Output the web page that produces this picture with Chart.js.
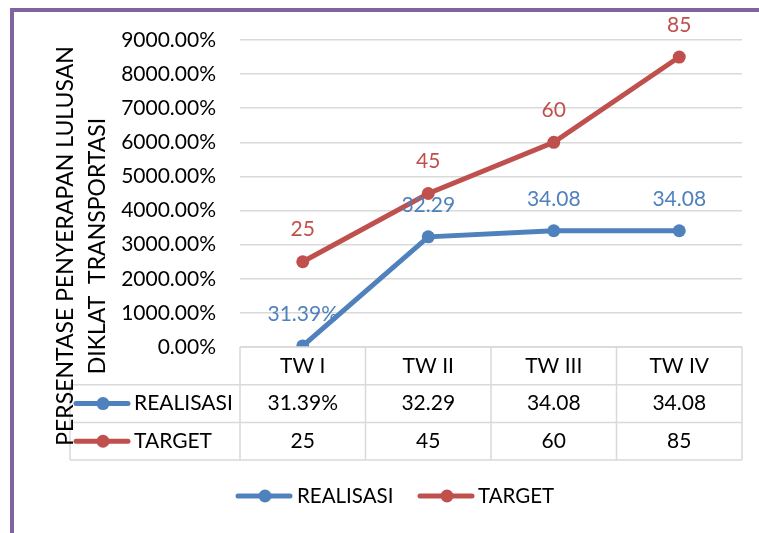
<!DOCTYPE html>
<html>
<head>
<meta charset="utf-8">
<script src="https://cdn.jsdelivr.net/npm/chart.js@4.4.0/dist/chart.umd.min.js"></script>
<style>
  html, body { margin: 0; padding: 0; background: #fff; }
  #wrap { position: relative; width: 759px; height: 533px; overflow: hidden; }
  #frame {
    position: absolute; left: 10px; top: 8px; width: 800px; height: 521px;
    border-left: 4px solid #8064a2; border-top: 4px solid #8064a2;
    border-bottom: 2px solid #d3c8e0;
  }
  canvas { position: absolute; left: 0; top: 0; }
</style>
</head>
<body>
<div id="wrap">
  <div id="frame"></div>
  <canvas id="chart" width="759" height="533"></canvas>
</div>
<script>
// categories and series (values in "hundreds of percent", axis shows x100 %)
var categories = ["TW I", "TW II", "TW III", "TW IV"];
var realisasiValues = [0.3139, 32.29, 34.08, 34.08];
var targetValues = [25, 45, 60, 85];
var realisasiLabels = ["31.39%", "32.29", "34.08", "34.08"];
var targetLabels = ["25", "45", "60", "85"];
var titleLines = ["PERSENTASE PENYERAPAN LULUSAN", "DIKLAT  TRANSPORTASI"];

var FONT = "Lato, 'Liberation Sans', sans-serif";
var BLUE = "#4f81bd";
var RED = "#c0504d";
var GRID = "#d9d9d9";

function drawKey(ctx, x, y, color) {
  ctx.save();
  ctx.strokeStyle = color;
  ctx.lineWidth = 5;
  ctx.lineCap = "round";
  ctx.beginPath();
  ctx.moveTo(x, y);
  ctx.lineTo(x + 52, y);
  ctx.stroke();
  ctx.fillStyle = color;
  ctx.beginPath();
  ctx.arc(x + 27, y, 6.5, 0, Math.PI * 2);
  ctx.fill();
  ctx.restore();
}

var extras = {
  id: "extras",
  afterDatasetsDraw: function (chart) {
    var ctx = chart.ctx;
    // data labels above points
    ctx.save();
    ctx.font = "21px " + FONT;
    ctx.textAlign = "center";
    ctx.textBaseline = "middle";
    chart.data.datasets.forEach(function (ds, i) {
      var meta = chart.getDatasetMeta(i);
      meta.data.forEach(function (pt, j) {
        ctx.fillStyle = ds.borderColor;
        ctx.fillText(ds.valueLabels[j], pt.x, pt.y - 32);
      });
    });
    ctx.restore();
  },
  afterDraw: function (chart) {
    var ctx = chart.ctx;
    var xs = chart.scales.x;
    var area = chart.chartArea;
    var n = categories.length;
    var band = (area.right - area.left) / n;
    var rowH = 37.7;
    var top = area.bottom;
    var tableLeft = 70;

    // table grid
    ctx.save();
    ctx.strokeStyle = GRID;
    ctx.lineWidth = 1.5;
    ctx.beginPath();
    ctx.moveTo(area.left, top);
    ctx.lineTo(area.right, top);
    for (var r = 1; r <= 3; r++) {
      ctx.moveTo(tableLeft, top + r * rowH);
      ctx.lineTo(area.right, top + r * rowH);
    }
    ctx.moveTo(tableLeft, top + rowH);
    ctx.lineTo(tableLeft, top + 3 * rowH);
    for (var c = 0; c <= n; c++) {
      var x = area.left + c * band;
      ctx.moveTo(x, top);
      ctx.lineTo(x, top + 3 * rowH);
    }
    ctx.stroke();

    // table text
    ctx.font = "21px " + FONT;
    ctx.fillStyle = "#000";
    ctx.textAlign = "center";
    ctx.textBaseline = "middle";
    categories.forEach(function (cat, j) {
      var cx = xs.getPixelForValue(j);
      ctx.fillText(cat, cx, top + rowH * 0.5);
      ctx.fillText(realisasiLabels[j], cx, top + rowH * 1.5);
      ctx.fillText(targetLabels[j], cx, top + rowH * 2.5);
    });

    // series keys in table
    var ds = chart.data.datasets;
    ctx.textAlign = "left";
    ds.forEach(function (d, i) {
      var y = top + rowH * (1.5 + i);
      drawKey(ctx, 76, y, d.borderColor);
      ctx.fillStyle = "#000";
      ctx.fillText(d.label, 134, y);
    });

    // bottom legend
    var ly = 496;
    ctx.font = "20.5px " + FONT;
    drawKey(ctx, 238, ly, ds[0].borderColor);
    ctx.fillStyle = "#000";
    ctx.fillText(ds[0].label, 297, ly);
    drawKey(ctx, 420, ly, ds[1].borderColor);
    ctx.fillStyle = "#000";
    ctx.fillText(ds[1].label, 478, ly);

    // y axis title (two rotated lines)
    ctx.save();
    ctx.translate(66, 246);
    ctx.rotate(-Math.PI / 2);
    ctx.textAlign = "center";
    ctx.font = "23px " + FONT;
    ctx.fillText(titleLines[0], 0, 0);
    ctx.fillText(titleLines[1], 0, 32);
    ctx.restore();

    ctx.restore();
  }
};

new Chart(document.getElementById("chart").getContext("2d"), {
  type: "line",
  data: {
    labels: categories,
    datasets: [
      {
        label: "REALISASI",
        data: realisasiValues,
        valueLabels: realisasiLabels,
        borderColor: BLUE,
        backgroundColor: BLUE,
        borderWidth: 5,
        pointRadius: 6.5,
        pointHoverRadius: 6.5,
        pointBorderWidth: 0,
        tension: 0
      },
      {
        label: "TARGET",
        data: targetValues,
        valueLabels: targetLabels,
        borderColor: RED,
        backgroundColor: RED,
        borderWidth: 5,
        pointRadius: 6.5,
        pointHoverRadius: 6.5,
        pointBorderWidth: 0,
        tension: 0
      }
    ]
  },
  options: {
    responsive: false,
    animation: false,
    layout: { padding: { top: 40, right: 17, bottom: 186, left: 0 } },
    plugins: { legend: { display: false }, tooltip: { enabled: false } },
    scales: {
      x: { display: false, offset: true },
      y: {
        min: 0,
        max: 90,
        afterFit: function (s) { s.width = 240; },
        ticks: {
          stepSize: 10,
          padding: 24,
          color: "#000",
          font: { family: FONT, size: 21 },
          callback: function (v) { return (v * 100).toFixed(2) + "%"; }
        },
        grid: { color: GRID, lineWidth: 1.5, drawTicks: false },
        border: { display: false }
      }
    }
  },
  plugins: [extras]
});
</script>
</body>
</html>
